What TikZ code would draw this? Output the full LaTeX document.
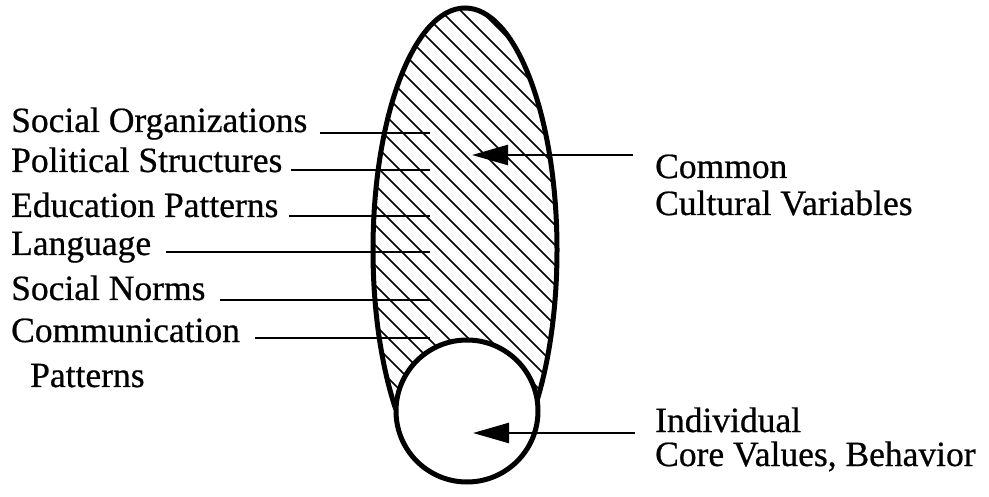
\documentclass[tikz,border=0pt]{standalone}
\usepackage{fontspec}
\setmainfont[FakeBold=0.6]{Liberation Serif}
\usetikzlibrary{arrows.meta}
\begin{document}
\begin{tikzpicture}[x=1pt,y=-1pt,
  lbl/.style={anchor=base west, inner sep=0pt, font=\fontsize{35.5}{40}\selectfont},
  leader/.style={line width=2.8pt},
  pointer/.style={line width=2.4pt, -{Triangle[length=36pt,width=20pt]}},
  outline/.style={line width=5pt},
  hatch/.style={line width=1.5pt}]
\useasboundingbox (0,0) rectangle (989,497);
% hatched ellipse, cut off by the circle
\begin{scope}
  \clip (0,0) rectangle (989,409);
  \begin{scope}
    \clip (465,250) ellipse [x radius=92, y radius=242];
    \foreach \c in {-130,-110,...,570} \draw[hatch] (\c,0) -- ++(500,500);
  \end{scope}
  \draw[outline] (465,250) ellipse [x radius=92, y radius=242];
\end{scope}
\fill[white] (467,411) circle [radius=71];
\draw[outline] (467,411) circle [radius=71];
% left labels
\node[lbl] (so) at (11,132) {Social Organizations};
\node[lbl] (ps) at (11,172) {Political Structures};
\node[lbl] (ep) at (11,217) {Education Patterns};
\node[lbl] (la) at (11,255) {Language};
\node[lbl] (sn) at (11,300) {Social Norms};
\node[lbl] (cp) at (11,342) {Communication};
\node[lbl] (cp2) at (30,387) {Patterns};
% leader end points
\coordinate (e1) at (430,133);
\coordinate (e2) at (430,170);
\coordinate (e3) at (430,216);
\coordinate (e4) at (430,252);
\coordinate (e5) at (430,300);
\coordinate (e6) at (430,338);
\path ([xshift=12pt]so.base east) coordinate (s1);
\path ([xshift=8pt]ps.base east) coordinate (s2);
\path ([xshift=10pt]ep.base east) coordinate (s3);
\path ([xshift=15pt]la.base east) coordinate (s4);
\path ([xshift=14pt]sn.base east) coordinate (s5);
\path ([xshift=15pt]cp.base east) coordinate (s6);
\draw[leader] (s1 |- e1) -- (e1);
\draw[leader] (s2 |- e2) -- (e2);
\draw[leader] (s3 |- e3) -- (e3);
\draw[leader] (s4 |- e4) -- (e4);
\draw[leader] (s5 |- e5) -- (e5);
\draw[leader] (s6 |- e6) -- (e6);
% right labels
\node[lbl] (cc1) at (655,178) {Common};
\node[lbl] (cc2) at (655,215) {Cultural Variables};
\node[lbl] (in1) at (655,432) {Individual};
\node[lbl] (in2) at (655,466) {Core Values, Behavior};
\coordinate (t1) at (472,155);
\coordinate (t2) at (473,433);
\path ([xshift=-22pt]cc1.base west) coordinate (a1);
\path ([xshift=-20pt]in1.base west) coordinate (a2);
\draw[pointer] (a1 |- t1) -- (t1);
\draw[pointer] (a2 |- t2) -- (t2);
\end{tikzpicture}
\end{document}
